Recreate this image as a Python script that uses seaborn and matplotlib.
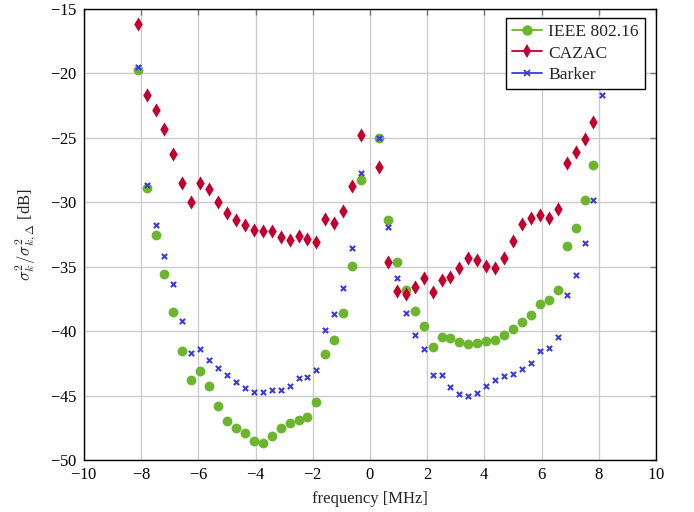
import numpy as np
import pandas as pd
import matplotlib
matplotlib.use("Agg")
import matplotlib.pyplot as plt
from matplotlib.lines import Line2D
import seaborn as sns

# Subcarrier frequencies in MHz (DC carrier excluded)
freq = [-8.125, -7.8125, -7.5, -7.1875, -6.875, -6.5625, -6.25, -5.9375, -5.625,
        -5.3125, -5.0, -4.6875, -4.375, -4.0625, -3.75, -3.4375, -3.125, -2.8125,
        -2.5, -2.1875, -1.875, -1.5625, -1.25, -0.9375, -0.625, -0.3125,
        0.3125, 0.625, 0.9375, 1.25, 1.5625, 1.875, 2.1875, 2.5, 2.8125, 3.125,
        3.4375, 3.75, 4.0625, 4.375, 4.6875, 5.0, 5.3125, 5.625, 5.9375, 6.25,
        6.5625, 6.875, 7.1875, 7.5, 7.8125, 8.125]

ieee = [-19.77, -28.87, -32.52, -35.6, -38.5, -41.51, -43.77, -43.06, -44.23,
        -45.8, -46.97, -47.5, -47.9, -48.55, -48.68, -48.12, -47.5, -47.13,
        -46.87, -46.64, -45.47, -41.74, -40.66, -38.61, -34.92, -28.25,
        -24.98, -31.4, -34.6, -36.83, -38.46, -39.63, -41.24, -40.42, -40.57,
        -40.81, -40.97, -40.95, -40.79, -40.65, -40.3, -39.84, -39.28, -38.71,
        -37.87, -37.62, -36.79, -33.43, -32.03, -29.81, -27.09, np.nan]

cazac = [-16.2, -21.65, -22.82, -24.3, -26.29, -28.52, -30.0, -28.52, -28.95,
         -29.96, -30.82, -31.4, -31.8, -32.14, -32.19, -32.24, -32.71, -32.91,
         -32.63, -32.83, -33.05, -31.26, -31.6, -30.71, -28.75, -24.79,
         -27.26, -34.6, -36.85, -37.13, -36.54, -35.88, -37.0, -36.0, -35.83,
         -35.07, -34.31, -34.45, -34.98, -35.1, -34.31, -32.97, -31.65, -31.23,
         -30.97, -31.2, -30.5, -26.99, -26.13, -25.1, -23.78, np.nan]

barker = [-19.51, -28.62, -31.75, -34.2, -36.33, -39.2, -41.72, -41.37, -42.25,
          -42.89, -43.41, -43.91, -44.39, -44.75, -44.69, -44.55, -44.55, -44.26,
          -43.67, -43.57, -42.98, -39.95, -38.7, -36.62, -33.52, -27.71,
          -24.98, -31.88, -35.86, -38.61, -40.27, -41.37, -43.42, -43.39, -44.3,
          -44.87, -45.02, -44.78, -44.25, -43.76, -43.47, -43.32, -42.96, -42.44,
          -41.51, -41.27, -40.47, -37.18, -35.68, -33.17, -29.86, -21.71]

series_names = ["IEEE 802.16", "CAZAC", "Barker"]
x_ticks = [-10, -8, -6, -4, -2, 0, 2, 4, 6, 8, 10]
y_ticks = [-50, -45, -40, -35, -30, -25, -20, -15]

sns.set_style("white")
plt.rcParams["font.family"] = ["serif"]
plt.rcParams["font.serif"] = ["Liberation Serif", "DejaVu Serif"]
plt.rcParams["mathtext.fontset"] = "cm"
plt.rcParams["axes.formatter.use_mathtext"] = True

df = pd.DataFrame({"freq": freq * 3,
                   "value": ieee + cazac + barker,
                   "scheme": [n for n in series_names for _ in freq]})

colors = {"IEEE 802.16": "#6cb52f", "CAZAC": "#c2002f", "Barker": "#3b3bdb"}
markers = {"IEEE 802.16": "o", "CAZAC": "d", "Barker": "x"}
sizes = {"IEEE 802.16": 50, "CAZAC": 52, "Barker": 14}

fig = plt.figure(figsize=(6.94, 5.12), dpi=100)
ax = fig.add_axes([84 / 694, 1 - 460 / 512, 572 / 694, 451 / 512])

for name in series_names:
    sub = df[df["scheme"] == name].dropna()
    kw = dict(linewidth=0) if markers[name] != "x" else dict(linewidth=1.5)
    sns.scatterplot(data=sub, x="freq", y="value", ax=ax, color=colors[name],
                    marker=markers[name], s=sizes[name], zorder=3, legend=False, **kw)

ax.set_xlim(-10, 10)
ax.set_ylim(-50, -15)
ax.set_xticks(x_ticks)
ax.set_yticks(y_ticks)
ax.grid(True, color="#cccccc", linewidth=1.0)
ax.set_axisbelow(True)
for sp in ax.spines.values():
    sp.set_color("black")
    sp.set_linewidth(1.0)
ax.tick_params(direction="in", length=4, width=1, color="#777777",
               top=True, right=True, labelsize=12, labelcolor="black", pad=5)

ax.set_xlabel("frequency [MHz]", fontsize=12, labelpad=6)
ax.set_ylabel(r"$\sigma_k^2/\sigma_{k,\Delta}^2$ [dB]", fontsize=12, labelpad=8)

handles = [Line2D([], [], color=colors[n], marker=markers[n], linewidth=1.3,
                  markersize={"IEEE 802.16": 7.5, "CAZAC": 7.5, "Barker": 4}[n],
                  markeredgewidth={"IEEE 802.16": 0, "CAZAC": 0, "Barker": 1.3}[n])
           for n in series_names]
leg = ax.legend(handles, series_names, loc="upper right",
                bbox_to_anchor=(1 - 11 / 572, 1 - 9 / 451), borderaxespad=0,
                fontsize=12.6, frameon=True, fancybox=False, framealpha=1,
                edgecolor="black", handlelength=1.75, labelspacing=0.28,
                borderpad=0.35, handletextpad=0.35)
leg.get_frame().set_linewidth(1.0)

fig.savefig("out.png", dpi=100)
